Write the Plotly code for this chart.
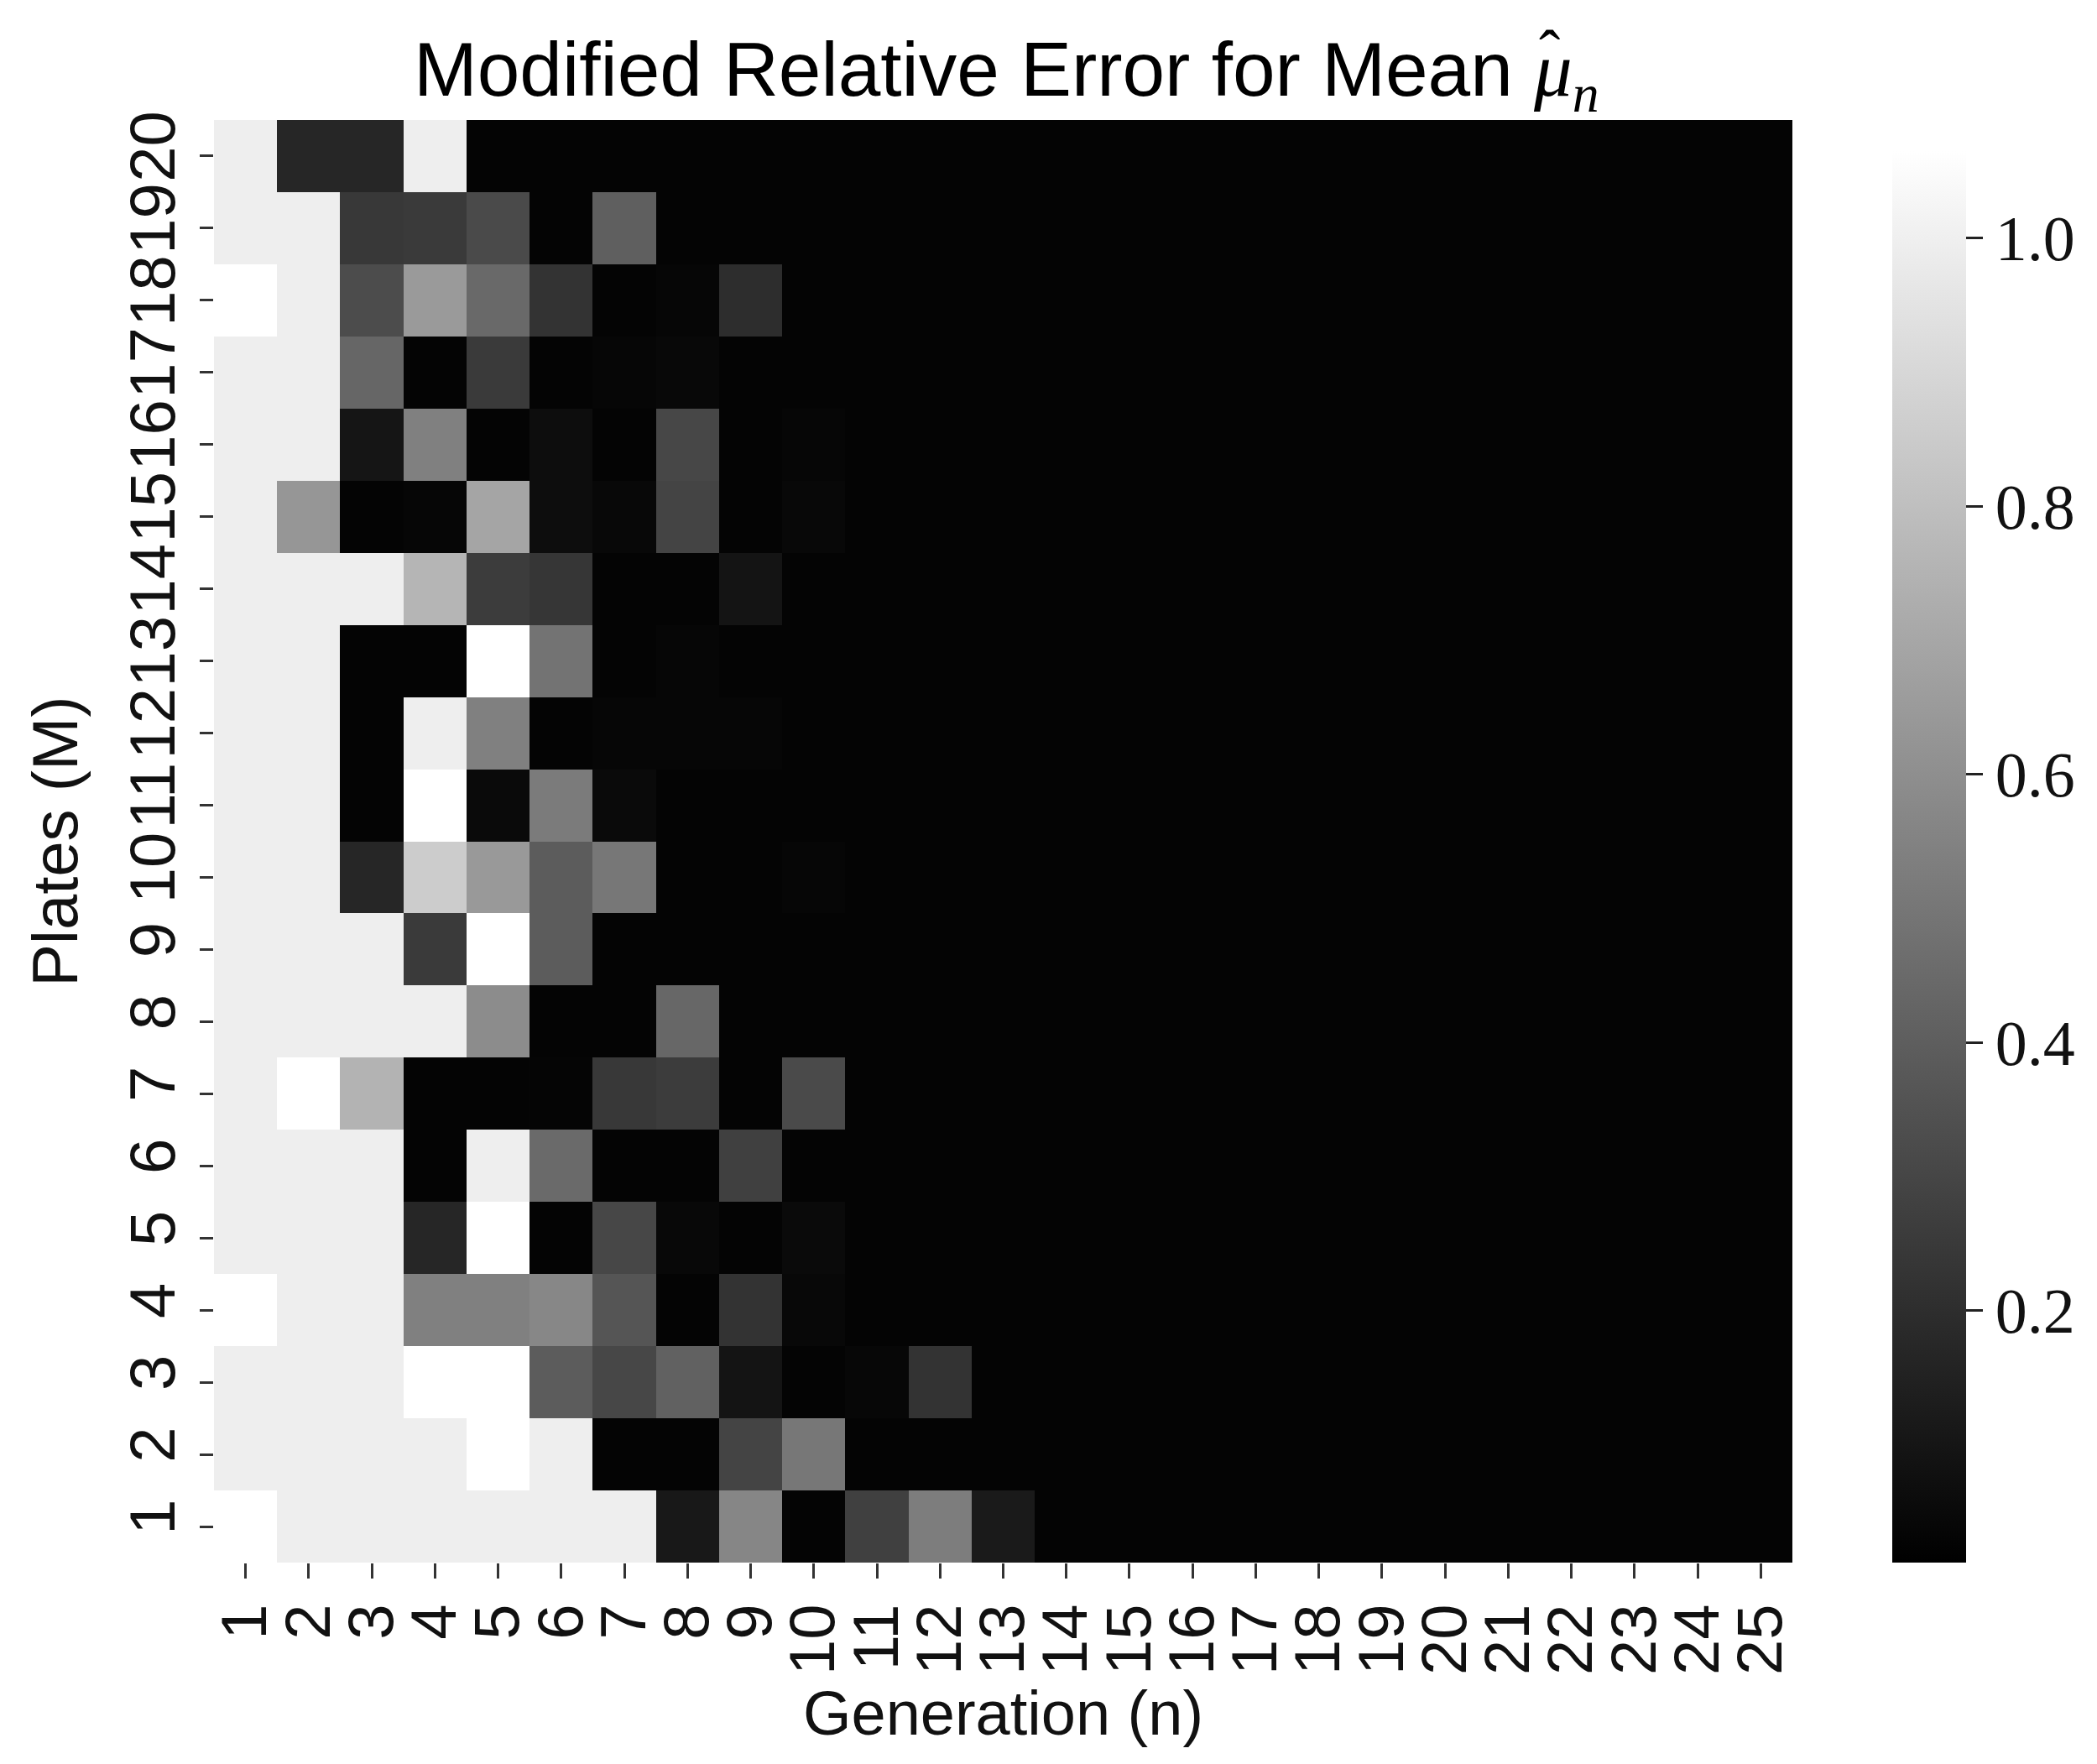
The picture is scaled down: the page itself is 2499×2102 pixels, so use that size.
import plotly.graph_objects as go

generations = [1, 2, 3, 4, 5, 6, 7, 8, 9, 10, 11, 12, 13, 14, 15, 16, 17, 18, 19, 20, 21, 22, 23, 24, 25]
plates = [1, 2, 3, 4, 5, 6, 7, 8, 9, 10, 11, 12, 13, 14, 15, 16, 17, 18, 19, 20]

# values per plate (row), columns = generations 1..25
p1 = [1.065, 0.995, 0.995, 0.995, 0.995, 0.995, 0.995, 0.111, 0.565, 0.03, 0.276, 0.528, 0.119, 0.03, 0.03, 0.03, 0.03, 0.03, 0.03, 0.03, 0.03, 0.03, 0.03, 0.03, 0.03]
p2 = [0.995, 0.995, 0.995, 0.995, 1.065, 0.995, 0.03, 0.03, 0.293, 0.503, 0.03, 0.03, 0.03, 0.03, 0.03, 0.03, 0.03, 0.03, 0.03, 0.03, 0.03, 0.03, 0.03, 0.03, 0.03]
p3 = [0.995, 0.995, 0.995, 1.065, 1.065, 0.392, 0.305, 0.413, 0.095, 0.03, 0.04, 0.223, 0.03, 0.03, 0.03, 0.03, 0.03, 0.03, 0.03, 0.03, 0.03, 0.03, 0.03, 0.03, 0.03]
p4 = [1.065, 0.995, 0.995, 0.540, 0.540, 0.570, 0.363, 0.03, 0.223, 0.045, 0.03, 0.03, 0.03, 0.03, 0.03, 0.03, 0.03, 0.03, 0.03, 0.03, 0.03, 0.03, 0.03, 0.03, 0.03]
p5 = [0.995, 0.995, 0.995, 0.169, 1.065, 0.03, 0.305, 0.045, 0.03, 0.053, 0.03, 0.03, 0.03, 0.03, 0.03, 0.03, 0.03, 0.03, 0.03, 0.03, 0.03, 0.03, 0.03, 0.03, 0.03]
p6 = [0.995, 0.995, 0.995, 0.03, 0.995, 0.450, 0.03, 0.03, 0.276, 0.03, 0.03, 0.03, 0.03, 0.03, 0.03, 0.03, 0.03, 0.03, 0.03, 0.03, 0.03, 0.03, 0.03, 0.03, 0.03]
p7 = [0.995, 1.065, 0.751, 0.03, 0.03, 0.033, 0.243, 0.260, 0.03, 0.318, 0.03, 0.03, 0.03, 0.03, 0.03, 0.03, 0.03, 0.03, 0.03, 0.03, 0.03, 0.03, 0.03, 0.03, 0.03]
p8 = [0.995, 0.995, 0.995, 0.995, 0.590, 0.03, 0.03, 0.437, 0.03, 0.03, 0.03, 0.03, 0.03, 0.03, 0.03, 0.03, 0.03, 0.03, 0.03, 0.03, 0.03, 0.03, 0.03, 0.03, 0.03]
p9 = [0.995, 0.995, 0.995, 0.252, 1.065, 0.392, 0.03, 0.03, 0.03, 0.03, 0.03, 0.03, 0.03, 0.03, 0.03, 0.03, 0.03, 0.03, 0.03, 0.03, 0.03, 0.03, 0.03, 0.03, 0.03]
p10 = [0.995, 0.995, 0.169, 0.854, 0.644, 0.392, 0.503, 0.03, 0.03, 0.035, 0.03, 0.03, 0.03, 0.03, 0.03, 0.03, 0.03, 0.03, 0.03, 0.03, 0.03, 0.03, 0.03, 0.03, 0.03]
p11 = [0.995, 0.995, 0.03, 1.065, 0.053, 0.520, 0.053, 0.03, 0.03, 0.03, 0.03, 0.03, 0.03, 0.03, 0.03, 0.03, 0.03, 0.03, 0.03, 0.03, 0.03, 0.03, 0.03, 0.03, 0.03]
p12 = [0.995, 0.995, 0.03, 0.995, 0.540, 0.03, 0.035, 0.035, 0.035, 0.03, 0.03, 0.03, 0.03, 0.03, 0.03, 0.03, 0.03, 0.03, 0.03, 0.03, 0.03, 0.03, 0.03, 0.03, 0.03]
p13 = [0.995, 0.995, 0.03, 0.03, 1.065, 0.487, 0.03, 0.035, 0.03, 0.03, 0.03, 0.03, 0.03, 0.03, 0.03, 0.03, 0.03, 0.03, 0.03, 0.03, 0.03, 0.03, 0.03, 0.03, 0.03]
p14 = [0.995, 0.995, 0.995, 0.759, 0.260, 0.235, 0.03, 0.03, 0.095, 0.03, 0.03, 0.03, 0.03, 0.03, 0.03, 0.03, 0.03, 0.03, 0.03, 0.03, 0.03, 0.03, 0.03, 0.03, 0.03]
p15 = [0.995, 0.631, 0.03, 0.035, 0.693, 0.066, 0.045, 0.293, 0.03, 0.045, 0.03, 0.03, 0.03, 0.03, 0.03, 0.03, 0.03, 0.03, 0.03, 0.03, 0.03, 0.03, 0.03, 0.03, 0.03]
p16 = [0.995, 0.995, 0.099, 0.540, 0.03, 0.066, 0.03, 0.305, 0.03, 0.035, 0.03, 0.03, 0.03, 0.03, 0.03, 0.03, 0.03, 0.03, 0.03, 0.03, 0.03, 0.03, 0.03, 0.03, 0.03]
p17 = [0.995, 0.995, 0.433, 0.03, 0.252, 0.03, 0.035, 0.045, 0.03, 0.03, 0.03, 0.03, 0.03, 0.03, 0.03, 0.03, 0.03, 0.03, 0.03, 0.03, 0.03, 0.03, 0.03, 0.03, 0.03]
p18 = [1.065, 0.995, 0.326, 0.648, 0.446, 0.223, 0.03, 0.035, 0.198, 0.03, 0.03, 0.03, 0.03, 0.03, 0.03, 0.03, 0.03, 0.03, 0.03, 0.03, 0.03, 0.03, 0.03, 0.03, 0.03]
p19 = [0.995, 0.995, 0.243, 0.252, 0.318, 0.03, 0.404, 0.03, 0.03, 0.03, 0.03, 0.03, 0.03, 0.03, 0.03, 0.03, 0.03, 0.03, 0.03, 0.03, 0.03, 0.03, 0.03, 0.03, 0.03]
p20 = [0.995, 0.169, 0.169, 0.995, 0.03, 0.03, 0.03, 0.03, 0.03, 0.03, 0.03, 0.03, 0.03, 0.03, 0.03, 0.03, 0.03, 0.03, 0.03, 0.03, 0.03, 0.03, 0.03, 0.03, 0.03]

cbar_ticks = [0.2, 0.4, 0.6, 0.8, 1.0]
cbar_labels = ["0.2", "0.4", "0.6", "0.8", "1.0"]

z = [p1, p2, p3, p4, p5, p6, p7, p8, p9, p10, p11, p12, p13, p14, p15, p16, p17, p18, p19, p20]

SANS = "Liberation Sans, Arial, sans-serif"
SERIF = "Liberation Serif, Times New Roman, serif"

W, H = 2499, 2102

fig = go.Figure(go.Heatmap(
    x=generations, y=plates, z=z,
    colorscale=[[0, "#000000"], [1, "#ffffff"]],
    zmin=0.012, zmax=1.065,
    colorbar=dict(
        thickness=88, thicknessmode="pixels",
        len=0.9785, lenmode="fraction",
        x=1.0633, xanchor="left", xpad=0,
        y=0, yanchor="bottom", ypad=0,
        outlinewidth=0,
        tickmode="array", tickvals=cbar_ticks, ticktext=cbar_labels,
        ticks="outside", ticklen=20, tickwidth=3, tickcolor="#222",
        tickfont=dict(family=SERIF, size=76, color="#111"),
    ),
    hoverinfo="skip",
))

fig.update_layout(
    width=W, height=H,
    margin=dict(l=247, r=371, t=135, b=248),
    paper_bgcolor="white", plot_bgcolor="white",
    title=dict(
        text="Modified Relative Error for Mean <span style=\"font-family:'Liberation Serif'\"><i>μ</i><sub><i>n</i></sub></span>",
        font=dict(family=SANS, size=91, color="#000"),
        x=0.502, xanchor="center", xref="paper",
        y=1 - 74 / H, yanchor="middle", yref="container",
    ),
    font=dict(family=SANS, color="#111"),
    annotations=[dict(
        text="ˆ", xref="paper", yref="paper",
        x=0.846, y=1 + 80 / 1719, xanchor="center", yanchor="middle",
        showarrow=False, font=dict(family=SERIF, size=76, color="#000"),
    )],
)

fig.update_xaxes(
    range=[0.5, 25.5], tickmode="array", tickvals=generations,
    ticktext=[str(g) for g in generations],
    tickangle=-90, tickfont=dict(family=SANS, size=76, color="#111"),
    ticks="outside", ticklen=18, tickwidth=3, tickcolor="#333",
    showgrid=False, zeroline=False, showline=False,
    title=dict(text="Generation (n)", font=dict(family=SANS, size=74, color="#111"), standoff=20),
)
fig.update_yaxes(
    range=[0.5, 20.5], tickmode="array", tickvals=plates,
    ticktext=[str(p) for p in plates],
    tickangle=-90, tickfont=dict(family=SANS, size=76, color="#111"),
    ticks="outside", ticklen=16, tickwidth=3, tickcolor="#333",
    showgrid=False, zeroline=False, showline=False,
    title=dict(text="Plates (M)", font=dict(family=SANS, size=76, color="#111"), standoff=20),
)

fig.write_html("out.html")
